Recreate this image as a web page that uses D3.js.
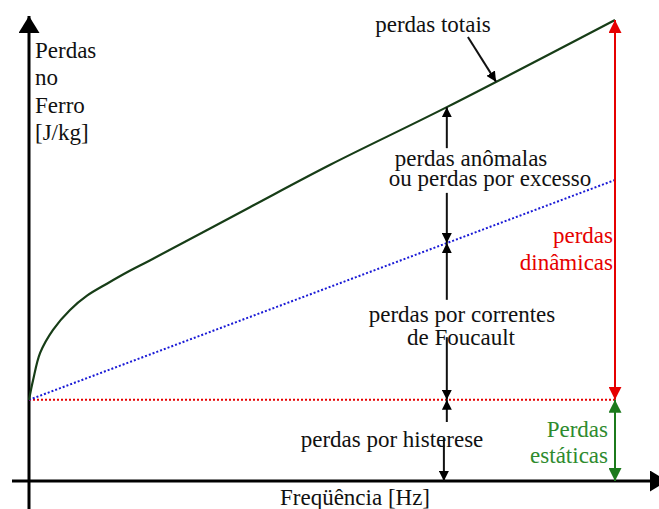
<!DOCTYPE html>
<html>
<head>
<meta charset="utf-8">
<script src="https://cdn.jsdelivr.net/npm/d3@7"></script>
<style>
  body { margin: 0; background: #fff; }
  #fig svg text { font-family: "Liberation Serif", "Times New Roman", serif !important; }
</style>
</head>
<body>
<div id="fig"></div>
<script>
// Values (arbitrary units, 0-100 on both axes)
const totalFreq = [0, 0.7, 1.9, 4.1, 7.0, 9.9, 13.3, 17.2, 20.7, 37.7, 51.4, 71.3, 100];
const totalLoss = [17.6, 21.9, 27.8, 32.8, 37.1, 40.2, 42.8, 45.6, 47.9, 59.4, 68.6, 81.1, 100];
const hysteresisLevel = 17.6;      // static losses (constant)
const eddyEnd = 65.3;              // eddy current line at max frequency
const markFreq = 71.3;             // where the component arrows stand
const maxFreq = 100;

const yLabel = ["Perdas", "no", "Ferro", "[J/kg]"];
const xLabel = "Freqüência [Hz]";
const dynLabel = ["perdas", "dinâmicas"];
const staticLabel = ["Perdas", "estáticas"];

const width = 659, height = 509;

const svg = d3.select("#fig")
  .append("svg")
  .attr("width", width)
  .attr("height", height)
  .attr("font-family", "Liberation Serif");

const x = d3.scaleLinear().domain([0, 100]).range([29, 615]);
const y = d3.scaleLinear().domain([0, 100]).range([481, 20]);

const red = "#e60000", green = "#1c7a1c", greenText = "#2e8b2e", ink = "#111";

// arrow markers
const defs = svg.append("defs");
function marker(id, color, len, wid) {
  defs.append("marker")
    .attr("id", id)
    .attr("markerUnits", "userSpaceOnUse")
    .attr("viewBox", `0 0 ${len} ${wid}`)
    .attr("refX", len)
    .attr("refY", wid / 2)
    .attr("markerWidth", len)
    .attr("markerHeight", wid)
    .attr("orient", "auto-start-reverse")
    .append("path")
    .attr("d", `M0,0 L${len},${wid / 2} L0,${wid} Z`)
    .attr("fill", color);
}
marker("axisHead", "#000", 17, 21);
marker("blackHead", "#000", 10, 10);
marker("redHead", red, 13, 13);
marker("greenHead", green, 13, 13);

// axes (no ticks, just arrows)
svg.append("line")
  .attr("x1", x(0)).attr("y1", height)
  .attr("x2", x(0)).attr("y2", 16)
  .attr("stroke", "#000").attr("stroke-width", 3)
  .attr("marker-end", "url(#axisHead)");
svg.append("line")
  .attr("x1", 12).attr("y1", y(0))
  .attr("x2", 667).attr("y2", y(0))
  .attr("stroke", "#000").attr("stroke-width", 3)
  .attr("marker-end", "url(#axisHead)");

// hysteresis level (red dotted)
svg.append("line")
  .attr("x1", x(0)).attr("y1", y(hysteresisLevel))
  .attr("x2", x(maxFreq)).attr("y2", y(hysteresisLevel))
  .attr("stroke", red).attr("stroke-width", 2)
  .attr("stroke-dasharray", "2,2");

// eddy current line (blue dotted)
const eddy = d3.scaleLinear().domain([0, maxFreq]).range([hysteresisLevel, eddyEnd]);
svg.append("line")
  .attr("x1", x(0)).attr("y1", y(eddy(0)))
  .attr("x2", x(maxFreq)).attr("y2", y(eddy(maxFreq)))
  .attr("stroke", "#1a1ad6").attr("stroke-width", 2)
  .attr("stroke-dasharray", "2,2");

// total losses curve
const totalPts = totalFreq.map((f, i) => [f, totalLoss[i]]);
svg.append("path")
  .datum(totalPts)
  .attr("d", d3.line().x(d => x(d[0])).y(d => y(d[1])).curve(d3.curveCatmullRom.alpha(0.5)))
  .attr("fill", "none")
  .attr("stroke", "#173d17")
  .attr("stroke-width", 2.2);

const totalAt = d3.scaleLinear().domain(totalFreq).range(totalLoss);

// helper for small arrows
function arrow(f1, v1, f2, v2, head, color, both) {
  const l = svg.append("line")
    .attr("x1", x(f1)).attr("y1", y(v1))
    .attr("x2", x(f2)).attr("y2", y(v2))
    .attr("stroke", color).attr("stroke-width", 2)
    .attr("marker-end", `url(#${head})`);
  if (both) l.attr("marker-start", `url(#${head})`);
}

// component arrows at markFreq
arrow(markFreq, 72.2, markFreq, totalAt(markFreq), "blackHead", ink);
arrow(markFreq, 62.5, markFreq, eddy(markFreq), "blackHead", ink);
arrow(markFreq, 39.3, markFreq, eddy(markFreq), "blackHead", ink);
arrow(markFreq, 31.2, markFreq, hysteresisLevel, "blackHead", ink);
arrow(markFreq, 12.8, markFreq, hysteresisLevel, "blackHead", ink);
arrow(markFreq - 0.5, 9.3, markFreq - 0.5, 0, "blackHead", ink);

// leader to the total curve
arrow(74.9, 96.3, 79.7, totalAt(79.7), "blackHead", ink);

// dynamic and static spans at max frequency
arrow(maxFreq, hysteresisLevel, maxFreq, totalAt(maxFreq), "redHead", red, true);
arrow(maxFreq, 0, maxFreq, hysteresisLevel, "greenHead", green, true);

// labels
function label(txt, px, py, anchor, color) {
  svg.append("text")
    .attr("x", px).attr("y", py)
    .attr("font-size", 23)
    .style("font-family", "'Liberation Serif', 'Times New Roman', serif")
    .attr("text-anchor", anchor)
    .attr("fill", color)
    .text(txt);
}

yLabel.forEach((t, i) => label(t, 35, 58 + i * 27.3, "start", ink));
label(xLabel, 355, 505, "middle", ink);

label("perdas totais", 433, 32, "middle", ink);
label("perdas anômalas", 471, 166, "middle", ink);
label("ou perdas por excesso", 490, 186, "middle", ink);
label("perdas por correntes", 462, 322, "middle", ink);
label("de Foucault", 461, 345, "middle", ink);
label("perdas por histerese", 392, 447, "middle", ink);

dynLabel.forEach((t, i) => label(t, 613, 243 + i * 27, "end", red));
staticLabel.forEach((t, i) => label(t, 608, 437 + i * 26, "end", greenText));
</script>
</body>
</html>
